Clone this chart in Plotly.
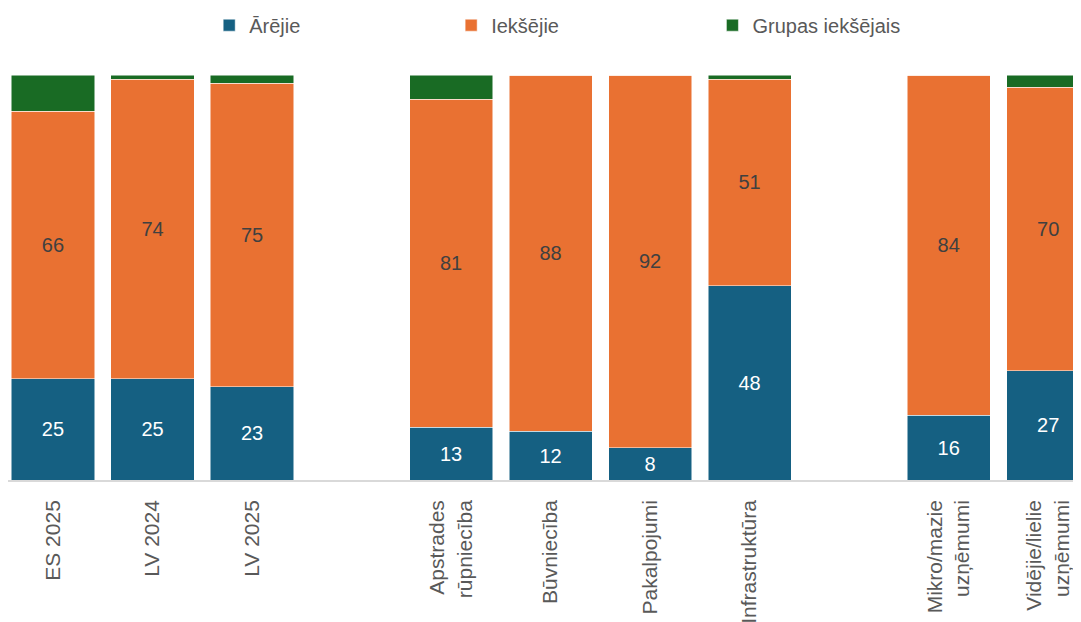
import plotly.graph_objects as go

BLUE = "#156082"
ORANGE = "#E97132"
GREEN = "#196B24"
GREY_TXT = "#595959"
FONT = "Liberation Sans, Arial, sans-serif"

# slot positions (gaps between groups are empty slots)
positions = [0, 1, 2, 4, 5, 6, 7, 9, 10]
categories = [
    "ES 2025", "LV 2024", "LV 2025",
    "Apstrades<br>rūpniecība", "Būvniecība", "Pakalpojumi", "Infrastruktūra",
    "Mikro/mazie<br>uzņēmumi", "Vidējie/lielie<br>uzņēmumi",
]
arejie = [25, 25, 23, 13, 12, 8, 48, 16, 27]
ieksejie = [66, 74, 75, 81, 88, 92, 51, 84, 70]
grupas = [9, 1, 2, 6, 0, 0, 1, 0, 3]

fig = go.Figure()
fig.add_trace(go.Bar(
    x=positions, y=arejie, name="Ārējie", legend="legend",
    marker=dict(color=BLUE, line=dict(color="white", width=0.5)),
    text=arejie, textposition="inside", insidetextanchor="middle", textangle=0,
    textfont=dict(color="white", size=20, family=FONT),
))
fig.add_trace(go.Bar(
    x=positions, y=ieksejie, name="Iekšējie", legend="legend2",
    marker=dict(color=ORANGE, line=dict(color="white", width=0.5)),
    text=ieksejie, textposition="inside", insidetextanchor="middle", textangle=0,
    textfont=dict(color="#404040", size=20, family=FONT),
))
fig.add_trace(go.Bar(
    x=positions, y=grupas, name="Grupas iekšējais", legend="legend3",
    marker=dict(color=GREEN, line=dict(color="white", width=0.5)),
    hoverinfo="y",
))

leg = dict(orientation="h", xanchor="left", y=1.123, yanchor="middle",
           font=dict(size=20, color=GREY_TXT, family=FONT),
           itemclick=False, bgcolor="rgba(0,0,0,0)")

# page body has an 8px margin, so the figure is 16px smaller than the window
fig.update_layout(
    barmode="stack",
    bargap=0.165,
    width=1073, height=614,
    showlegend=True,
    paper_bgcolor="white",
    plot_bgcolor="white",
    font=dict(family=FONT, color=GREY_TXT),
    margin=dict(l=0, r=0, t=67, b=142, autoexpand=False),
    uniformtext=dict(minsize=20, mode="show"),
    legend=dict(leg, x=0.1875),
    legend2=dict(leg, x=0.413),
    legend3=dict(leg, x=0.6565),
    xaxis=dict(
        range=[-0.452, 10.33],
        tickvals=positions, ticktext=categories,
        tickangle=-90, tickfont=dict(size=21, color=GREY_TXT, family=FONT),
        showline=True, linecolor="#d9d9d9", linewidth=1.5,
        showgrid=False, zeroline=False, ticks="", ticklabelstandoff=10,
        automargin=False,
    ),
    yaxis=dict(range=[0, 100], visible=False, showgrid=False, zeroline=False),
)

fig.write_html("out.html")
